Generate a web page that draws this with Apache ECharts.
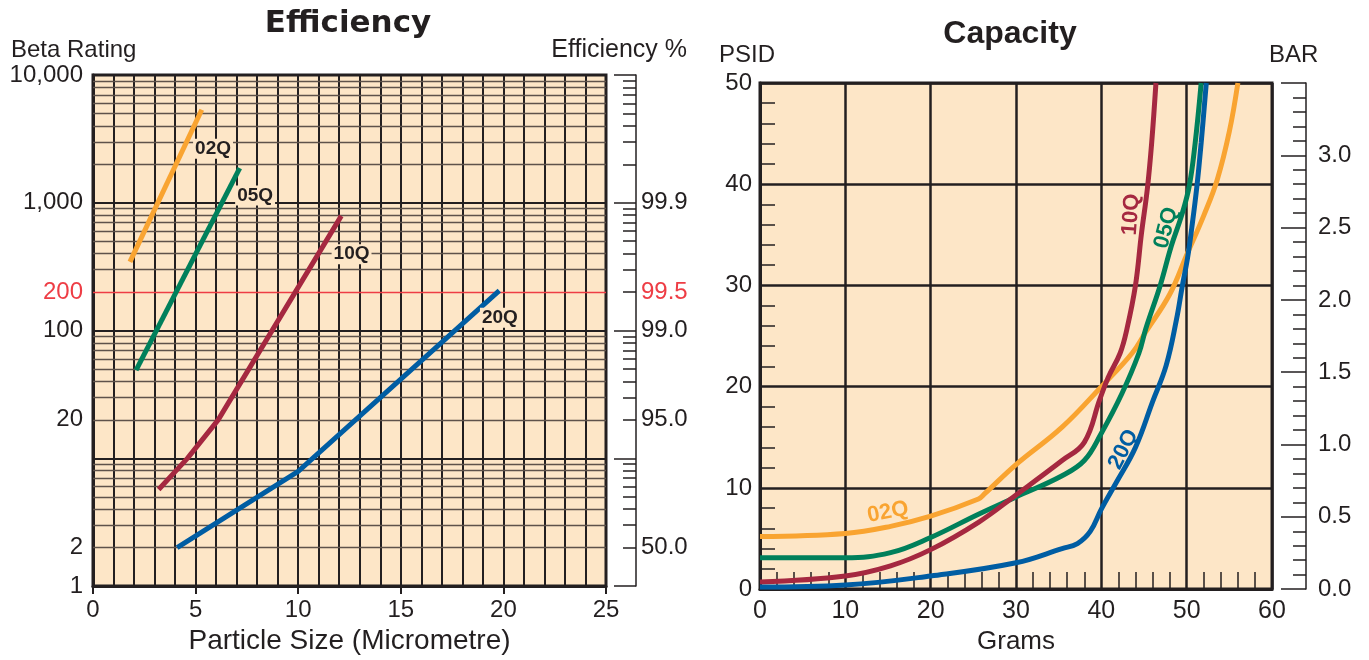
<!DOCTYPE html>
<html><head><meta charset="utf-8">
<script src="https://cdn.jsdelivr.net/npm/echarts@6/dist/echarts.min.js"></script>
<style>html,body{margin:0;padding:0;background:#fff}#c{width:1369px;height:660px}</style>
</head><body><div id="c"></div>
<script>
// ---------- Efficiency chart (particle size in micrometre vs beta rating) ----------
const q02Eff = [[1.8, 345], [5.3, 5350]];
const q05Eff = [[2.1, 49], [7.15, 1870]];
const q10Eff = [[3.2, 5.7], [4.6, 10], [6.1, 20], [12.1, 790]];
const q20Eff = [[4.1, 2], [10.0, 7.9], [19.8, 205]];
const effSeriesNames = ['02Q', '05Q', '10Q', '20Q'];
const effLabelPos = [[5.85, 2650], [7.9, 1140], [12.6, 396], [19.83, 126]];
const betaTickLabels = [1, 2, 20, 100, 200, 1000, 10000];
const betaRedValue = 200;
const efficiencyTickValues = [2, 20, 100, 200, 1000];
const efficiencyTickText = ['50.0', '95.0', '99.0', '99.5', '99.9'];
const betaDecadeLines = [10, 100, 1000];
const betaMinorLines = [2, 3, 4, 5, 6, 7, 8, 9, 20, 30, 40, 50, 60, 70, 80, 90,
  300, 400, 500, 600, 700, 800, 900, 2000, 3000, 4000, 5000, 6000, 7000, 8000, 9000];
const effDecadeTicks = [1, 10, 100, 1000, 10000];
const effMinorTicks = [2, 3, 4, 5, 6, 7, 8, 9, 20, 30, 40, 50, 60, 70, 80, 90,
  200, 300, 400, 500, 600, 700, 800, 900, 2000, 3000, 4000, 5000, 6000, 7000, 8000, 9000];

// ---------- Capacity chart (grams vs PSID) ----------
const q02CapX = [0, 10, 15.3, 20, 25.6, 26.3, 30, 35.4, 40, 43.6, 45.2, 48, 50, 52, 53.6, 55, 56];
const q02CapY = [5.2, 5.5, 6.2, 7.2, 8.9, 9.4, 12.3, 16.0, 20, 23.3, 25.4, 29.1, 33.0, 36.9, 40.5, 45.2, 50];
const q05CapX = [0, 10, 15.3, 20, 25.6, 30, 35.4, 38, 40, 42.4, 44.4, 45.2, 46.9, 48.2, 49.4, 50.3, 51, 51.7];
const q05CapY = [3.1, 3.1, 3.6, 5.1, 7.4, 9.1, 11.2, 12.7, 15.4, 19.3, 23.3, 25.7, 30, 33.9, 36.9, 39.8, 44.1, 50];
const q10CapX = [0, 10, 15.3, 20, 25.6, 30, 35.4, 38, 39.8, 40.8, 42.2, 43, 44, 44.7, 45.4, 45.9, 46.4];
const q10CapY = [0.7, 1.3, 2.3, 3.9, 6.6, 9.3, 12.7, 14.5, 18.7, 20.9, 23.3, 25.7, 30, 35.1, 39.6, 44.1, 50];
const q20CapX = [0, 10, 20, 30, 35.4, 37.2, 38.7, 40, 41.8, 44, 46, 47.6, 48.8, 49.5, 50.1, 50.6, 51.2, 51.7, 52.3];
const q20CapY = [0.2, 0.4, 1.3, 2.6, 4.0, 4.5, 5.7, 7.9, 10.6, 14.0, 18.5, 22.1, 26.6, 30, 32.7, 35.7, 39.8, 44.1, 50];
const capLabelPos = [[15.0, 7.6], [47.6, 35.7], [43.5, 37.0], [42.6, 13.8]];
const capLabelRotate = [11, 76, 86, 63];

const INK = '#231F20', PEACH = '#FDE6C7', RED = '#EE3D45';
const COLORS = ['#F9A431', '#00805B', '#A52840', '#005DA3'];
const FONT = "'Liberation Sans', Arial, Helvetica, sans-serif";

const zip = (xs, ys) => xs.map((x, i) => [x, ys[i]]);
const effData = [q02Eff, q05Eff, q10Eff, q20Eff];
const capData = [zip(q02CapX, q02CapY), zip(q05CapX, q05CapY), zip(q10CapX, q10CapY), zip(q20CapX, q20CapY)];

const txt = (size, extra) => Object.assign({ fontFamily: FONT, fontSize: size, color: INK, fontWeight: 'normal' }, extra || {});

const gridLines = [];
betaMinorLines.forEach(v => gridLines.push({ yAxis: v, lineStyle: { color: '#5e524a', width: 1.4, type: 'solid' } }));
betaDecadeLines.forEach(v => gridLines.push({ yAxis: v, lineStyle: { color: INK, width: 2, type: 'solid' } }));
gridLines.push({ yAxis: betaRedValue, lineStyle: { color: RED, width: 1.3, type: 'solid' } });

const series = [];
series.push({
  type: 'line', xAxisIndex: 0, yAxisIndex: 0, data: [], silent: true, z: 1,
  markLine: { silent: true, symbol: ['none', 'none'], label: { show: false }, z: 1, animation: false, data: gridLines }
});
effData.forEach((d, i) => series.push({
  name: effSeriesNames[i] + ' efficiency', type: 'line', xAxisIndex: 0, yAxisIndex: 0, data: d,
  showSymbol: false, symbol: 'none', z: 3, lineStyle: { color: COLORS[i], width: 5, cap: 'butt' }, itemStyle: { color: COLORS[i] },
  markPoint: {
    symbol: 'circle', symbolSize: 0, silent: true, z: 6, animation: false,
    label: { show: true, position: 'inside', formatter: effSeriesNames[i], backgroundColor: PEACH, padding: [1, 2, 0, 2],
      fontFamily: FONT, fontWeight: 'bold', fontSize: 19, color: INK },
    data: [{ coord: effLabelPos[i] }]
  }
}));
capData.forEach((d, i) => series.push({
  name: effSeriesNames[i] + ' capacity', type: 'line', xAxisIndex: 1, yAxisIndex: 3, data: d,
  showSymbol: false, symbol: 'none', smooth: 0.4, z: 3,
  lineStyle: { color: COLORS[i], width: 5 }, itemStyle: { color: COLORS[i] },
  markPoint: {
    symbol: 'circle', symbolSize: 0, silent: true, z: 6, animation: false,
    label: { show: true, position: 'inside', formatter: effSeriesNames[i], rotate: capLabelRotate[i],
      fontFamily: FONT, fontWeight: 'bold', fontSize: 22, color: COLORS[i] },
    data: [{ coord: capLabelPos[i] }]
  }
}));

const fmtBeta = v => {
  const r = Math.round(v);
  const s = r.toLocaleString('en-US');
  return r === betaRedValue ? '{r|' + s + '}' : s;
};
const fmtEff = v => {
  const r = Math.round(v);
  const i = efficiencyTickValues.indexOf(r);
  if (i < 0) return '';
  return r === betaRedValue ? '{r|' + efficiencyTickText[i] + '}' : efficiencyTickText[i];
};

const option = {
  animation: false,
  backgroundColor: '#ffffff',
  title: [
    { text: 'Efficiency', left: 343, top: 3, textAlign: 'center', textStyle: { fontFamily: "'DejaVu Sans', sans-serif", fontWeight: 'bold', fontSize: 31, color: INK } },
    { text: 'Beta Rating', left: 6, top: 33, textStyle: txt(24) },
    { text: 'Efficiency %', left: 682, top: 33, textAlign: 'right', textStyle: txt(25) },
    { text: 'Capacity', left: 1005, top: 13, textAlign: 'center', textStyle: txt(32, { fontWeight: 'bold' }) },
    { text: 'PSID', left: 714, top: 38, textStyle: txt(24) },
    { text: 'BAR', left: 1264, top: 38, textStyle: txt(24) }
  ],
  grid: [
    { left: 93, top: 75, width: 513, height: 515, show: true, backgroundColor: PEACH, borderColor: INK, borderWidth: 3 },
    { left: 760, top: 83, width: 512, height: 512, show: true, backgroundColor: PEACH, borderColor: INK, borderWidth: 3 }
  ],
  xAxis: [
    { gridIndex: 0, type: 'value', min: 0, max: 25, interval: 5,
      name: 'Particle Size (Micrometre)', nameLocation: 'middle', nameGap: 32, nameTextStyle: txt(28),
      axisLine: { show: true, lineStyle: { color: INK, width: 3 } },
      axisTick: { show: true, length: 8, lineStyle: { color: INK, width: 2 } },
      axisLabel: Object.assign(txt(24), { margin: 12 }),
      splitLine: { show: true, lineStyle: { color: INK, width: 2 } },
      minorTick: { show: false, splitNumber: 5 },
      minorSplitLine: { show: true, lineStyle: { color: INK, width: 2 } } },
    { gridIndex: 1, type: 'value', min: 0, max: 60, interval: 10,
      name: 'Grams', nameLocation: 'middle', nameGap: 32, nameTextStyle: txt(26),
      axisLine: { show: true, lineStyle: { color: INK, width: 3 } },
      axisTick: { show: false, inside: true },
      minorTick: { show: true, splitNumber: 5, length: 17, lineStyle: { color: INK, width: 1.5 } },
      axisLabel: Object.assign(txt(25), { margin: 10 }),
      splitLine: { show: true, lineStyle: { color: INK, width: 2.5 } } }
  ],
  yAxis: [
    { gridIndex: 0, type: 'log', logBase: 10, min: 1, max: 10000, position: 'left',
      axisLine: { show: true, lineStyle: { color: INK, width: 3 } },
      axisTick: { show: false },
      axisLabel: Object.assign(txt(24), { margin: 10, customValues: betaTickLabels, formatter: fmtBeta, rich: { r: txt(24, { color: RED }) } }),
      splitLine: { show: false } },
    { gridIndex: 0, type: 'log', logBase: 10, min: 1, max: 10000, position: 'right', offset: 30,
      axisLine: { show: true, lineStyle: { color: INK, width: 1.5 } },
      axisTick: { show: true, inside: true, length: 22, customValues: effDecadeTicks, lineStyle: { color: INK, width: 1.5 } },
      axisLabel: Object.assign(txt(24), { margin: 5, customValues: efficiencyTickValues, formatter: fmtEff, rich: { r: txt(24, { color: RED }) } }),
      splitLine: { show: false } },
    { gridIndex: 0, type: 'log', logBase: 10, min: 1, max: 10000, position: 'right', offset: 30,
      axisLine: { show: false },
      axisTick: { show: true, inside: true, length: 13, customValues: effMinorTicks, lineStyle: { color: INK, width: 1.5 } },
      axisLabel: { show: false },
      splitLine: { show: false } },
    { gridIndex: 1, type: 'value', min: 0, max: 50, interval: 10, position: 'left',
      axisLine: { show: true, lineStyle: { color: INK, width: 3 } },
      axisTick: { show: false, inside: true },
      minorTick: { show: true, splitNumber: 5, length: 15, lineStyle: { color: INK, width: 1.5 } },
      axisLabel: Object.assign(txt(24), { margin: 8 }),
      splitLine: { show: true, lineStyle: { color: INK, width: 2.5 } } },
    { gridIndex: 1, type: 'value', min: 0, max: 3.5, interval: 0.5, position: 'right', offset: 34,
      axisLine: { show: true, lineStyle: { color: INK, width: 1.5 } },
      axisTick: { show: true, inside: true, length: 25, lineStyle: { color: INK, width: 1.5 } },
      minorTick: { show: true, splitNumber: 5, length: 13, lineStyle: { color: INK, width: 1.5 } },
      axisLabel: Object.assign(txt(24), { margin: 12, formatter: v => (v > 3.25 ? '' : v.toFixed(1)) }),
      splitLine: { show: false } }
  ],
  series: series
};

const chart = echarts.init(document.getElementById('c'), null, { renderer: 'canvas' });
chart.setOption(option);
</script>
</body></html>
